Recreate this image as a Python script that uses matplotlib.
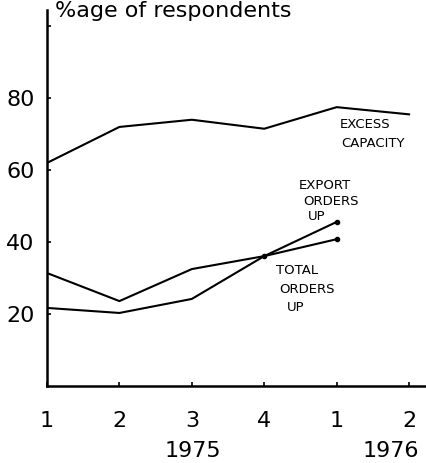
# Librerías
import matplotlib.pyplot as plt
import matplotlib.transforms as mtransforms

# Trimestres: 1975 T1..T4, 1976 T1..T2
trimestres = [0, 1, 2, 3, 4, 5]
etiquetas_trimestre = ["1", "2", "3", "4", "1", "2"]

# % de encuestados
exceso_capacidad = [62, 72, 74, 71.5, 77.5, 75.5]
pedidos_export = [21.7, 20.3, 24.2, 36.1, 45.6]
pedidos_totales = [31.4, 23.6, 32.5, 36.1, 40.8]

# Figura de 427x463 px
fig = plt.figure(figsize=(4.27, 4.63), dpi=100)
ax = fig.add_axes([47 / 427, 77 / 463, 378 / 427, 376 / 463])

negro = "black"
ax.plot(trimestres, exceso_capacidad, color=negro, linewidth=1.5)
ax.plot(trimestres[:5], pedidos_export, color=negro, linewidth=1.5,
        marker="o", markersize=3, markevery=[3, 4])
ax.plot(trimestres[:5], pedidos_totales, color=negro, linewidth=1.5,
        marker="o", markersize=3, markevery=[4])

# Ejes
ax.set_xlim(0, 5.22)
ax.set_ylim(0, 104.5)
ax.spines["top"].set_visible(False)
ax.spines["right"].set_visible(False)
ax.spines["left"].set_linewidth(1.8)
ax.spines["bottom"].set_linewidth(1.8)

ax.set_yticks([20, 40, 60, 80, 100])
ax.set_yticklabels(["20", "40", "60", "80", ""])
ax.set_xticks(trimestres)
ax.set_xticklabels(etiquetas_trimestre)
ax.tick_params(axis="both", direction="in", length=3, width=1.2, labelsize=16)
ax.tick_params(axis="y", pad=9)
ax.tick_params(axis="x", pad=18)

# Años bajo los trimestres
trans = mtransforms.blended_transform_factory(ax.transData, fig.transFigure)
ax.text(2.02, 1 - 451 / 463, "1975", transform=trans, ha="center",
        va="center", fontsize=16)
ax.text(4.75, 1 - 451 / 463, "1976", transform=trans, ha="center",
        va="center", fontsize=16)

# Título arriba a la izquierda
fig.text(55 / 427, 1 - 11 / 463, "%age of respondents", ha="left",
         va="center", fontsize=16)

# Rótulos de las series (una línea por texto)
fs = 9.5
ax.text(4.39, 72.8, "EXCESS", ha="center", va="center", fontsize=fs)
ax.text(4.5, 67.5, "CAPACITY", ha="center", va="center", fontsize=fs)
ax.text(3.83, 55.6, "EXPORT", ha="center", va="center", fontsize=fs)
ax.text(3.92, 51.4, "ORDERS", ha="center", va="center", fontsize=fs)
ax.text(3.72, 47.2, "UP", ha="center", va="center", fontsize=fs)
ax.text(3.45, 32.2, "TOTAL", ha="center", va="center", fontsize=fs)
ax.text(3.59, 26.7, "ORDERS", ha="center", va="center", fontsize=fs)
ax.text(3.43, 21.7, "UP", ha="center", va="center", fontsize=fs)

fig.savefig("out.png", dpi=100)
